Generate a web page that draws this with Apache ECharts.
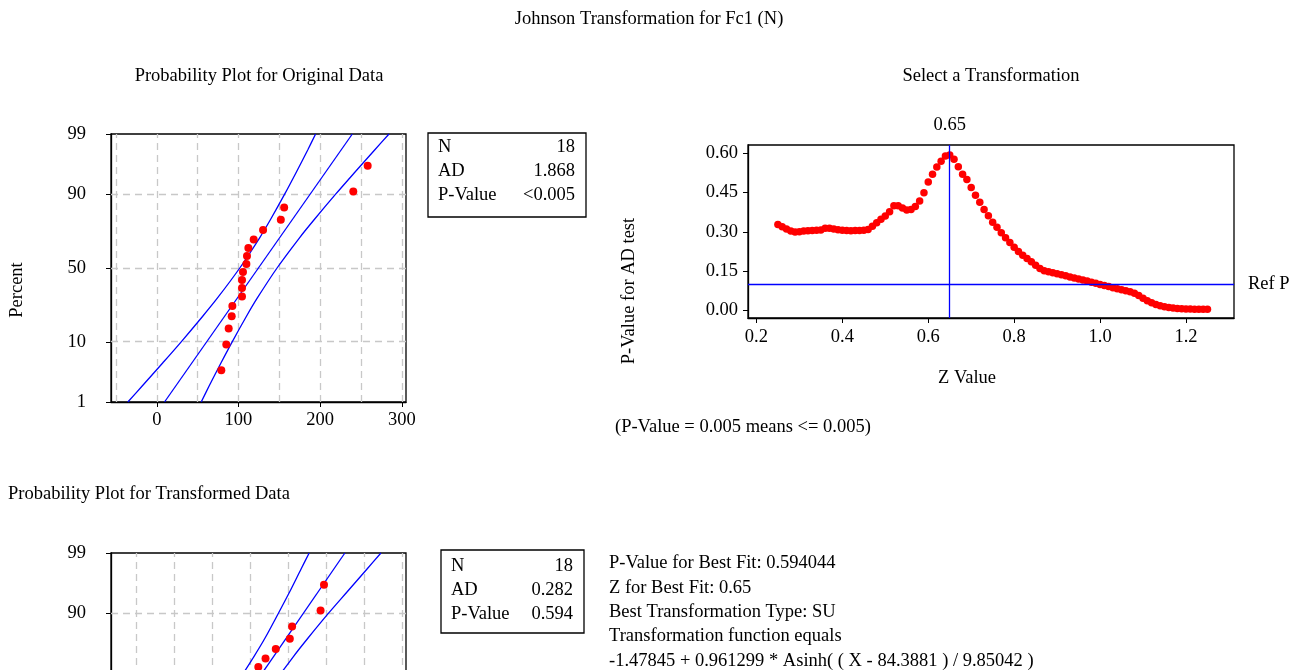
<!DOCTYPE html>
<html>
<head>
<meta charset="utf-8">
<title>Johnson Transformation for Fc1 (N)</title>
<script src="https://cdn.jsdelivr.net/npm/echarts@6/dist/echarts.min.js"></script>
<style>
  html, body { margin: 0; padding: 0; background: #fff; }
  #chart { width: 1290px; height: 670px; }
</style>
</head>
<body>
<div id="chart"></div>
<script>
// plotting positions (%) used by both probability plots
const percents = [3.8, 9.2, 14.7, 20.1, 25.5, 31.0, 36.4, 41.8, 47.3, 52.7, 58.2, 63.6, 69.0, 74.5, 79.9, 85.3, 90.8, 96.2]
const origData = [79.0, 85.1, 88.0, 91.7, 92.5, 104.3, 104.3, 104.3, 105.5, 109.7, 110.4, 112.1, 118.6, 130.1, 151.8, 155.9, 240.5, 258.1]
const transData = [-1.98, -1.41, -1.13, -0.82, -0.76, -0.08, -0.08, -0.08, -0.03, 0.13, 0.15, 0.21, 0.40, 0.67, 1.04, 1.10, 1.85, 1.94]

// fitted line + confidence bands, read at these percents
const bandPercents = [1, 2, 5, 10, 20, 30, 50, 70, 80, 90, 95, 98, 99]
const origLower = [-35.4, -18.1, 7.5, 29.9, 56.0, 74.1, 101.6, 125.9, 139.2, 156.5, 170.1, 184.9, 194.4]
const origUpper = [54.4, 63.9, 78.7, 92.3, 109.6, 122.9, 147.2, 174.7, 192.8, 218.9, 241.3, 266.9, 284.2]
const transLower = [-3.32, -2.95, -2.41, -1.94, -1.38, -1.00, -0.42, 0.09, 0.38, 0.74, 1.03, 1.34, 1.55]
const transUpper = [-1.42, -1.22, -0.90, -0.62, -0.25, 0.03, 0.55, 1.13, 1.51, 2.06, 2.54, 3.08, 3.44]
const fitPercents = [1, 99]
const origFit = [9.5, 239.3]
const transFit = [-2.37, 2.49]

// p-value of the AD test for each Johnson z
const zValues = [0.25, 0.26, 0.27, 0.28, 0.29, 0.30, 0.31, 0.32, 0.33, 0.34, 0.35, 0.36, 0.37, 0.38, 0.39,
  0.40, 0.41, 0.42, 0.43, 0.44, 0.45, 0.46, 0.47, 0.48, 0.49, 0.50, 0.51, 0.52, 0.53, 0.54, 0.55, 0.56, 0.57,
  0.58, 0.59, 0.60, 0.61, 0.62, 0.63, 0.64, 0.65, 0.66, 0.67, 0.68, 0.69, 0.70, 0.71, 0.72, 0.73, 0.74, 0.75,
  0.76, 0.77, 0.78, 0.79, 0.80, 0.81, 0.82, 0.83, 0.84, 0.85, 0.86, 0.87, 0.88, 0.89, 0.90, 0.91, 0.92, 0.93,
  0.94, 0.95, 0.96, 0.97, 0.98, 0.99, 1.00, 1.01, 1.02, 1.03, 1.04, 1.05, 1.06, 1.07, 1.08, 1.09, 1.10, 1.11,
  1.12, 1.13, 1.14, 1.15, 1.16, 1.17, 1.18, 1.19, 1.20, 1.21, 1.22, 1.23, 1.24, 1.25]
const pValues = [0.328, 0.320, 0.311, 0.303, 0.300, 0.301, 0.303, 0.304, 0.305, 0.306, 0.307, 0.314, 0.314, 0.311, 0.308,
  0.306, 0.305, 0.304, 0.305, 0.305, 0.306, 0.309, 0.322, 0.335, 0.348, 0.361, 0.377, 0.400, 0.400, 0.391, 0.384, 0.386, 0.397,
  0.418, 0.450, 0.491, 0.520, 0.548, 0.570, 0.590, 0.594, 0.578, 0.549, 0.520, 0.500, 0.470, 0.440, 0.413, 0.386, 0.362, 0.337,
  0.318, 0.297, 0.278, 0.259, 0.241, 0.225, 0.211, 0.198, 0.186, 0.173, 0.160, 0.152, 0.148, 0.144, 0.140, 0.136, 0.132, 0.128,
  0.124, 0.120, 0.116, 0.112, 0.108, 0.104, 0.099, 0.095, 0.091, 0.087, 0.083, 0.079, 0.075, 0.071, 0.066, 0.057, 0.046, 0.037,
  0.029, 0.023, 0.018, 0.014, 0.011, 0.009, 0.007, 0.006, 0.005, 0.005, 0.004, 0.004, 0.004, 0.004]
const bestZ = 0.65
const refP = 0.1

// ticks and grid lines
const pctTicks = [1, 10, 50, 90, 99]
const pctGrid = [10, 50, 90]
const origTicks = [0, 100, 200, 300]
const origGrid = [-50, 0, 50, 100, 150, 200, 250, 300]
const transTicks = [-2, 0, 2, 4]
const transGrid = [-3, -2, -1, 0, 1, 2, 3, 4]
const zTicks = [0.2, 0.4, 0.6, 0.8, 1.0, 1.2]
const pTicks = [0, 0.15, 0.30, 0.45, 0.60]

const origStats = [['N', '18'], ['AD', '1.868'], ['P-Value', '<0.005']]
const transStats = [['N', '18'], ['AD', '0.282'], ['P-Value', '0.594']]
const bestFitLines = [
  'P-Value for Best Fit: 0.594044',
  'Z for Best Fit: 0.65',
  'Best Transformation Type: SU',
  'Transformation function equals',
  '-1.47845 + 0.961299 * Asinh( ( X - 84.3881 ) / 9.85042 )'
]

// inverse normal cdf, used as the probability scale
function probit (p) {
  const a = [-39.69683028665376, 220.9460984245205, -275.9285104469687, 138.3577518672690, -30.66479806614716, 2.506628277459239]
  const b = [-54.47671255583960, 161.5858368580409, -155.6989798598866, 66.80131188771972, -13.28068155288572]
  const c = [-0.007784894002430293, -0.3223964580411365, -2.400758277161838, -2.549732539343734, 4.374664141464968, 2.938163982698783]
  const d = [0.007784695709041462, 0.3224671290700398, 2.445134137142996, 3.754408661907416]
  const lo = 0.02425
  if (p < lo || p > 1 - lo) {
    const q = Math.sqrt(-2 * Math.log(p < lo ? p : 1 - p))
    const v = (((((c[0] * q + c[1]) * q + c[2]) * q + c[3]) * q + c[4]) * q + c[5]) /
      ((((d[0] * q + d[1]) * q + d[2]) * q + d[3]) * q + 1)
    return p < lo ? v : -v
  }
  const q = p - 0.5
  const r = q * q
  return (((((a[0] * r + a[1]) * r + a[2]) * r + a[3]) * r + a[4]) * r + a[5]) * q /
    (((((b[0] * r + b[1]) * r + b[2]) * r + b[3]) * r + b[4]) * r + 1)
}

const FONT = '"Liberation Serif", "Times New Roman", serif'
const FS = 18.5
const BLUE = '#0000ff'
const RED = '#ff0000'

const zMin = probit(0.01)
const zMax = probit(0.99)
const pctTickZ = pctTicks.map(p => probit(p / 100))
const pctLabel = v => {
  const i = pctTickZ.findIndex(z => Math.abs(z - v) < 1e-6)
  return i < 0 ? '' : String(pctTicks[i])
}
const pairs = (xs, ps) => xs.map((x, i) => [x, probit(ps[i] / 100)])

const makeAxis = (gridIndex, min, max, ticks, formatter, margin) => ({
  type: 'value',
  gridIndex,
  min,
  max,
  axisLine: { show: true, onZero: false, lineStyle: { color: '#000', width: 1.3 } },
  axisTick: { show: true, length: 5, customValues: ticks, lineStyle: { color: '#000', width: 1 } },
  axisLabel: { customValues: ticks, formatter, margin, color: '#000', fontFamily: FONT, fontSize: FS },
  splitLine: { show: false }
})

const gridLines = (xs, ps) => ({
  silent: true,
  symbol: 'none',
  z: 1,
  label: { show: false },
  lineStyle: { color: '#c8c8c8', type: [7, 5], width: 1.3 },
  data: xs.map(v => ({ xAxis: v })).concat(ps.map(p => ({ yAxis: probit(p / 100) })))
})

const probSeries = (i, data, lower, upper, fit, xGrid) => {
  const line = d => ({
    type: 'line',
    xAxisIndex: i,
    yAxisIndex: i,
    data: d,
    smooth: 0.3,
    showSymbol: false,
    z: 3,
    lineStyle: { color: BLUE, width: 1.3 }
  })
  return [
    line(pairs(lower, bandPercents)),
    line(pairs(upper, bandPercents)),
    line(pairs(fit, fitPercents)),
    {
      type: 'scatter',
      xAxisIndex: i,
      yAxisIndex: i,
      data: pairs(data, percents),
      symbolSize: 8,
      z: 4,
      itemStyle: { color: RED, opacity: 1 },
      markLine: gridLines(xGrid, pctGrid)
    }
  ]
}

const txt = (text, x, y, align, extra) => Object.assign({
  type: 'text',
  x,
  y,
  style: { text, fill: '#000', font: FS + 'px ' + FONT, textAlign: align || 'left', textVerticalAlign: 'middle' }
}, extra)

const statBox = (rows, x, y, w, h, first) => {
  const els = [{ type: 'rect', shape: { x, y, width: w, height: h }, style: { fill: 'none', stroke: '#000', lineWidth: 1.3 } }]
  rows.forEach((r, i) => {
    els.push(txt(r[0], x + 10, y + first + i * 24.3))
    els.push(txt(r[1], x + w - 11, y + first + i * 24.3, 'right'))
  })
  return els
}

const graphics = [
  txt('Johnson Transformation for Fc1 (N)', 649, 19, 'center'),
  txt('Probability Plot for Original Data', 259, 76, 'center'),
  txt('Select a Transformation', 991, 76, 'center'),
  txt('Probability Plot for Transformed Data', 8, 494),
  txt('Percent', 17, 290, 'center', { rotation: Math.PI / 2 }),
  txt('P-Value for AD test', 629, 291, 'center', { rotation: Math.PI / 2 }),
  txt('Z Value', 967, 378, 'center'),
  txt('(P-Value = 0.005 means <= 0.005)', 615, 427)
]
  .concat(statBox(origStats, 428, 133, 158, 84, 14))
  .concat(statBox(transStats, 441, 550, 143, 83, 16))
  .concat(bestFitLines.map((t, i) => txt(t, 609, 563.5 + i * 24.3)))

const frame = { show: true, borderColor: '#000', borderWidth: 1.3, backgroundColor: 'transparent', containLabel: false, outerBoundsMode: 'none' }
const markLabel = { color: '#000', fontFamily: FONT, fontSize: FS }

const option = {
  animation: false,
  backgroundColor: '#fff',
  grid: [
    Object.assign({ left: 111, top: 134, width: 295, height: 268 }, frame),
    Object.assign({ left: 748, top: 145, width: 486, height: 173 }, frame),
    Object.assign({ left: 111, top: 553, width: 295, height: 268 }, frame)
  ],
  xAxis: [
    makeAxis(0, -56, 305, origTicks, v => String(v), 9),
    makeAxis(1, 0.1804, 1.3118, zTicks, v => v.toFixed(1), 10),
    makeAxis(2, -3.67, 4.1, transTicks, v => String(v), 9)
  ],
  yAxis: [
    makeAxis(0, zMin, zMax, pctTickZ, pctLabel, 25),
    makeAxis(1, -0.029, 0.632, pTicks, v => v.toFixed(2), 10),
    makeAxis(2, zMin, zMax, pctTickZ, pctLabel, 25)
  ],
  graphic: { elements: graphics },
  series: [
    ...probSeries(0, origData, origLower, origUpper, origFit, origGrid),
    ...probSeries(2, transData, transLower, transUpper, transFit, transGrid),
    {
      type: 'scatter',
      xAxisIndex: 1,
      yAxisIndex: 1,
      data: zValues.map((z, i) => [z, pValues[i]]),
      symbolSize: 7.5,
      itemStyle: { color: RED, opacity: 1 },
      markLine: {
        silent: true,
        symbol: 'none',
        lineStyle: { color: BLUE, type: 'solid', width: 1.3 },
        data: [
          { xAxis: bestZ, label: Object.assign({ show: true, position: 'end', formatter: String(bestZ), distance: 10 }, markLabel) },
          { yAxis: refP, label: Object.assign({ show: true, position: 'end', formatter: 'Ref P', distance: 14 }, markLabel) }
        ]
      }
    }
  ]
}

const chart = echarts.init(document.getElementById('chart'))
chart.setOption(option)
</script>
</body>
</html>
